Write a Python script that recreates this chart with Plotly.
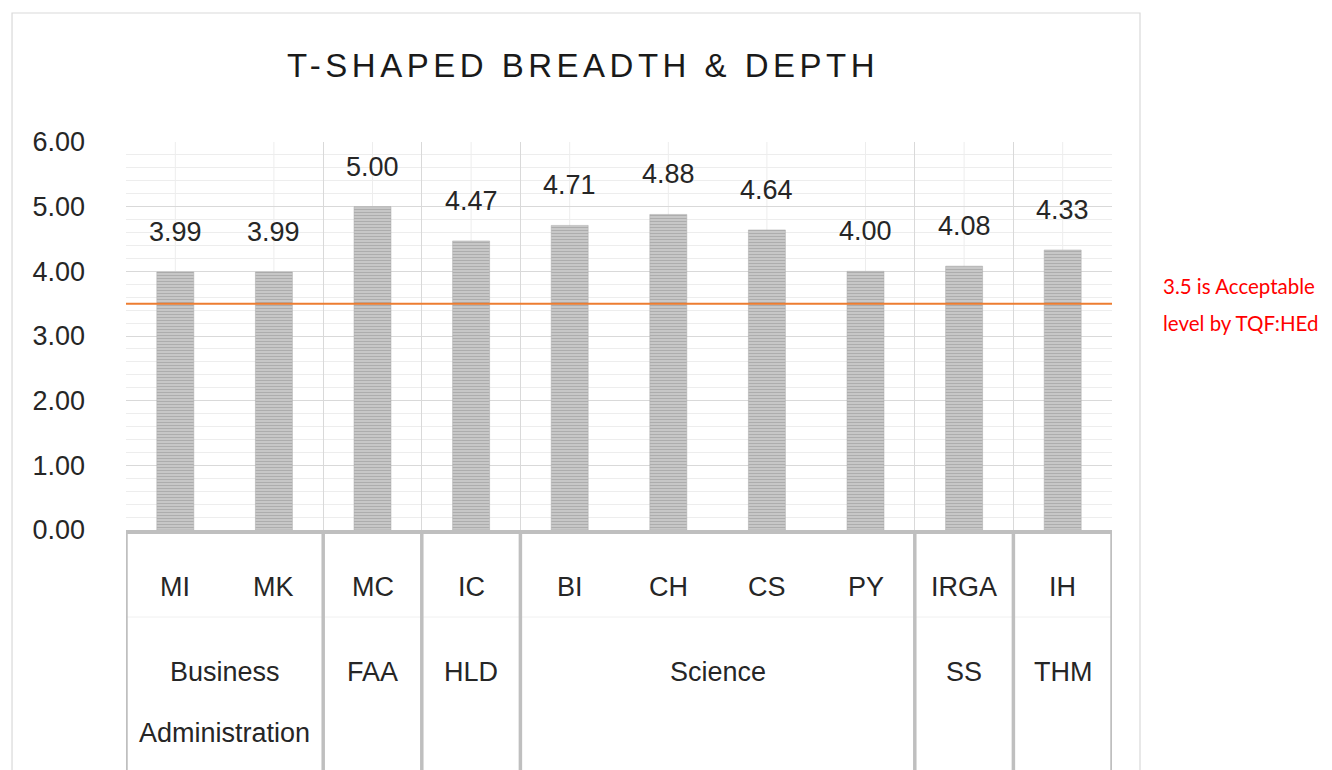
import plotly.graph_objects as go

# T-shaped breadth & depth scores by programme
codes = ["MI", "MK", "MC", "IC", "BI", "CH", "CS", "PY", "IRGA", "IH"]
scores = [3.99, 3.99, 5.00, 4.47, 4.71, 4.88, 4.64, 4.00, 4.08, 4.33]
groups = ["Business Administration", "FAA", "HLD", "Science", "SS", "THM"]
group_sizes = [2, 1, 1, 4, 1, 1]
threshold = 3.5
threshold_note = ["3.5 is Acceptable", "level by TQF:HEd"]
title_text = "T-SHAPED BREADTH & DEPTH"

FONT = "Liberation Sans, Arial, sans-serif"
TXT = "#262626"
GRID = "#d9d9d9"
GRID_MINOR = "#ededed"
BOX = "#bfbfbf"

x_idx = list(range(len(codes)))

fig = go.Figure()

fig.add_trace(go.Bar(
    x=x_idx,
    y=scores,
    width=0.375,
    marker=dict(
        color="#cccccc",
        line=dict(color="#a8a8a8", width=0.5),
        pattern=dict(shape="-", fgcolor="#8a8a8a", bgcolor="#d0d0d0",
                     size=3, solidity=0.5),
    ),
    hoverinfo="x+y",
    showlegend=False,
))

annotations = []
shapes = []

# value labels above bars
for i, v in enumerate(scores):
    annotations.append(dict(
        x=i, y=v, xref="x", yref="y", text=f"{v:.2f}", showarrow=False,
        yanchor="middle", yshift=40, font=dict(size=27, color=TXT, family=FONT),
    ))

# faint vertical lines at category centres
for i in x_idx:
    shapes.append(dict(type="line", xref="x", yref="paper", x0=i, x1=i, y0=0, y1=1,
                       line=dict(color=GRID_MINOR, width=1), layer="below"))

# threshold line
shapes.append(dict(type="line", xref="paper", yref="y", x0=0, x1=1,
                   y0=threshold, y1=threshold,
                   line=dict(color="#ED7D31", width=2), layer="above"))

# threshold note (outside the chart frame)
for k, line in enumerate(threshold_note):
    annotations.append(dict(
        x=1.0495, y=threshold, xref="paper", yref="y", text=line, showarrow=False,
        xanchor="left", yanchor="middle", yshift=18 - 37 * k,
        font=dict(size=20.5, color="#ff0000", family="Lato, Open Sans, sans-serif"),
    ))

# category code row
for i, c in enumerate(codes):
    annotations.append(dict(
        x=i, y=0, xref="x", yref="paper", text=c, showarrow=False,
        yanchor="middle", yshift=-57, font=dict(size=27, color=TXT, family=FONT),
    ))

# group row and box dividers
start = 0
bounds = [-0.5]
for g, n in zip(groups, group_sizes):
    centre = start + (n - 1) / 2
    for k, word in enumerate(g.split(" ")):
        annotations.append(dict(
            x=centre, y=0, xref="x", yref="paper", text=word, showarrow=False,
            yanchor="middle", yshift=-142 - 61 * k,
            font=dict(size=27, color=TXT, family=FONT),
        ))
    start += n
    bounds.append(start - 0.5)

for b in bounds:
    shapes.append(dict(type="line", xref="x", yref="paper", ysizemode="pixel",
                       yanchor=0, x0=b, x1=b, y0=-2, y1=-240,
                       line=dict(color=BOX, width=3.5), layer="above"))
# row separator between codes and groups
shapes.append(dict(type="line", xref="paper", yref="paper", ysizemode="pixel",
                   yanchor=0, x0=0, x1=1, y0=-87, y1=-87,
                   line=dict(color="#f0f0f0", width=1), layer="below"))
# top edge of label box
shapes.append(dict(type="line", xref="paper", yref="paper", ysizemode="pixel",
                   yanchor=0, x0=0, x1=1, y0=-2, y1=-2,
                   line=dict(color=BOX, width=4), layer="above"))

# outer chart frame
shapes.append(dict(type="rect", xref="paper", yref="paper",
                   x0=-0.1156, x1=1.0284, y0=-0.75, y1=1.3325,
                   line=dict(color="#d9d9d9", width=1.2), fillcolor="rgba(0,0,0,0)",
                   layer="below"))

# the page body has an 8px margin, so margins are offset by 8px
fig.update_layout(
    width=1332,
    height=770,
    margin=dict(l=118, r=228, t=134, b=248),
    paper_bgcolor="white",
    plot_bgcolor="white",
    bargap=0.625,
    title=dict(
        text=f'<span style="letter-spacing:4.5px">{title_text}</span>',
        xref="container", yref="container", x=0.4317, y=0.926,
        xanchor="center", yanchor="middle",
        font=dict(size=33, color="#1a1a1a", family=FONT),
    ),
    xaxis=dict(
        range=[-0.5, len(codes) - 0.5],
        tickmode="array",
        tickvals=[b for b in bounds],
        showticklabels=False,
        showgrid=True,
        gridcolor=GRID,
        gridwidth=1,
        zeroline=False,
        showline=False,
        ticks="",
        fixedrange=True,
    ),
    yaxis=dict(
        range=[0, 6],
        dtick=1,
        tickformat=".2f",
        showgrid=True,
        gridcolor=GRID,
        gridwidth=1,
        zeroline=False,
        showline=False,
        ticks="",
        ticklabelstandoff=40,
        tickfont=dict(size=27, color=TXT, family=FONT),
        minor=dict(dtick=0.2, showgrid=True, gridcolor=GRID_MINOR, gridwidth=1),
        fixedrange=True,
    ),
    annotations=annotations,
    shapes=shapes,
)

fig.write_html("out.html")
